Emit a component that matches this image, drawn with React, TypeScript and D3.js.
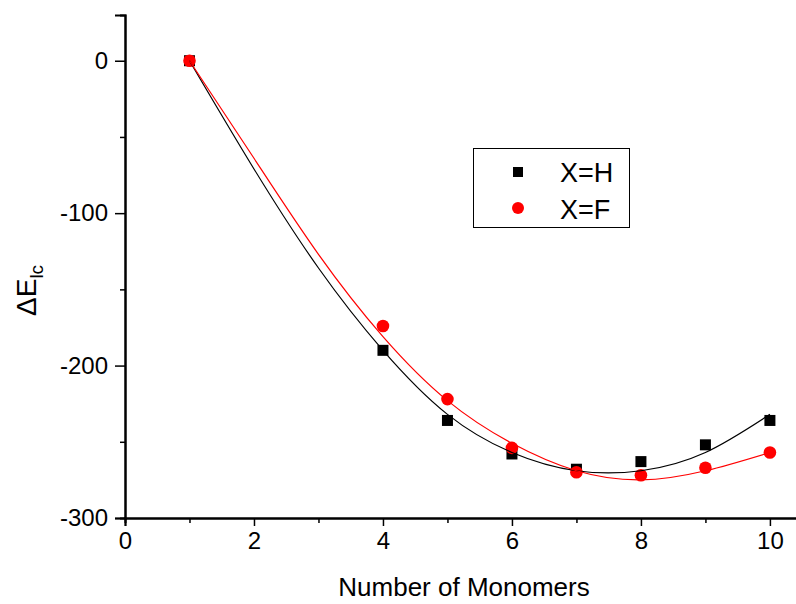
import { useEffect, useRef } from "react";
import * as d3 from "d3";

// measured points
const monomers = [1, 4, 5, 6, 7, 8, 9, 10];
const energyH = [0, -190, -236, -258, -268, -263, -252, -236];
const energyF = [0, -174, -222, -254, -270, -272, -267, -257];

// fitted curves
const fitX = [1, 2, 3, 4, 5, 6, 7, 8, 9, 10];
const fitH = [0, -71, -136, -190, -232, -257, -269, -269, -257, -232];
const fitF = [0, -64, -127, -181, -223, -251, -269, -275, -269, -257];

const xMajor = [0, 2, 4, 6, 8, 10];
const xMinor = [1, 3, 5, 7, 9];
const yMajor = [0, -100, -200, -300];
const yMinor = [-50, -150, -250];

const legendLabels = ["X=H", "X=F"];

const W = 796;
const H = 604;
const FONT = "Arial, 'Liberation Sans', sans-serif";

const App = () => {
  const svgRef = useRef<SVGSVGElement>(null);

  useEffect(() => {
    const svg = d3.select(svgRef.current);
    svg.selectAll("*").remove();

    const x = d3.scaleLinear().domain([0, 10.42]).range([125, 797]);
    const y = d3.scaleLinear().domain([-300, 30]).range([518, 15]);

    // axes
    const xAxis = svg.append("g").attr("transform", `translate(0,${y(-300)})`);
    xAxis.call(
      d3.axisBottom(x).tickValues(xMajor).tickSize(8).tickPadding(6).tickFormat(d => String(d))
    );
    xAxis.append("g").call(d3.axisBottom(x).tickValues(xMinor).tickSize(5).tickFormat(() => ""));

    const yAxis = svg.append("g").attr("transform", `translate(${x(0)},0)`);
    yAxis.call(
      d3.axisLeft(y).tickValues(yMajor).tickSize(10).tickPadding(7).tickFormat(d => String(d))
    );
    yAxis.append("g").call(d3.axisLeft(y).tickValues(yMinor).tickSize(5).tickFormat(() => ""));

    svg.selectAll(".domain").attr("stroke", "#000").attr("stroke-width", 2);
    svg.selectAll(".tick line").attr("stroke", "#000").attr("stroke-width", 1.5);
    svg.selectAll(".tick text")
      .attr("font-family", FONT)
      .attr("font-size", 24)
      .attr("fill", "#000");

    // markers
    const ptsH = monomers.map((m, i) => [m, energyH[i]]);
    const ptsF = monomers.map((m, i) => [m, energyF[i]]);

    svg.append("g")
      .selectAll("rect")
      .data(ptsH)
      .join("rect")
      .attr("x", d => x(d[0]) - 5.5)
      .attr("y", d => y(d[1]) - 5.5)
      .attr("width", 11)
      .attr("height", 11)
      .attr("fill", "#000");

    svg.append("g")
      .selectAll("circle")
      .data(ptsF)
      .join("circle")
      .attr("cx", d => x(d[0]))
      .attr("cy", d => y(d[1]))
      .attr("r", 6.3)
      .attr("fill", "#ff0000");

    // fit lines
    const line = d3.line<number>()
      .x((_, i) => x(fitX[i]))
      .y(d => y(d))
      .curve(d3.curveNatural);

    svg.append("path").attr("d", line(fitH)).attr("fill", "none").attr("stroke", "#000").attr("stroke-width", 1.2);
    svg.append("path").attr("d", line(fitF)).attr("fill", "none").attr("stroke", "#ff0000").attr("stroke-width", 1.2);

    // legend
    const lg = svg.append("g");
    lg.append("rect")
      .attr("x", 473.5).attr("y", 148.5)
      .attr("width", 156).attr("height", 79)
      .attr("fill", "#fff").attr("stroke", "#000").attr("stroke-width", 1);
    lg.append("rect").attr("x", 513).attr("y", 167).attr("width", 10).attr("height", 10).attr("fill", "#000");
    lg.append("circle").attr("cx", 518).attr("cy", 208).attr("r", 6).attr("fill", "#ff0000");
    lg.selectAll("text.lab")
      .data(legendLabels)
      .join("text")
      .attr("class", "lab")
      .attr("x", 560)
      .attr("y", (_, i) => 182 + i * 36.5)
      .attr("font-family", FONT)
      .attr("font-size", 27)
      .text(d => d);

    // axis titles
    svg.append("text")
      .attr("x", 464)
      .attr("y", 596)
      .attr("text-anchor", "middle")
      .attr("font-family", FONT)
      .attr("font-size", 26)
      .text("Number of Monomers");

    const yt = svg.append("text")
      .attr("transform", "translate(36,316) rotate(-90)")
      .attr("font-family", FONT)
      .attr("font-size", 28);
    yt.append("tspan").text("ΔE");
    yt.append("tspan").attr("font-size", 19).attr("dy", 7).text("lc");
  }, []);

  return (
    <svg
      ref={svgRef}
      width={W}
      height={H}
      style={{ position: "absolute", left: 0, top: 0, background: "#fff" }}
    />
  );
};

export default App;
